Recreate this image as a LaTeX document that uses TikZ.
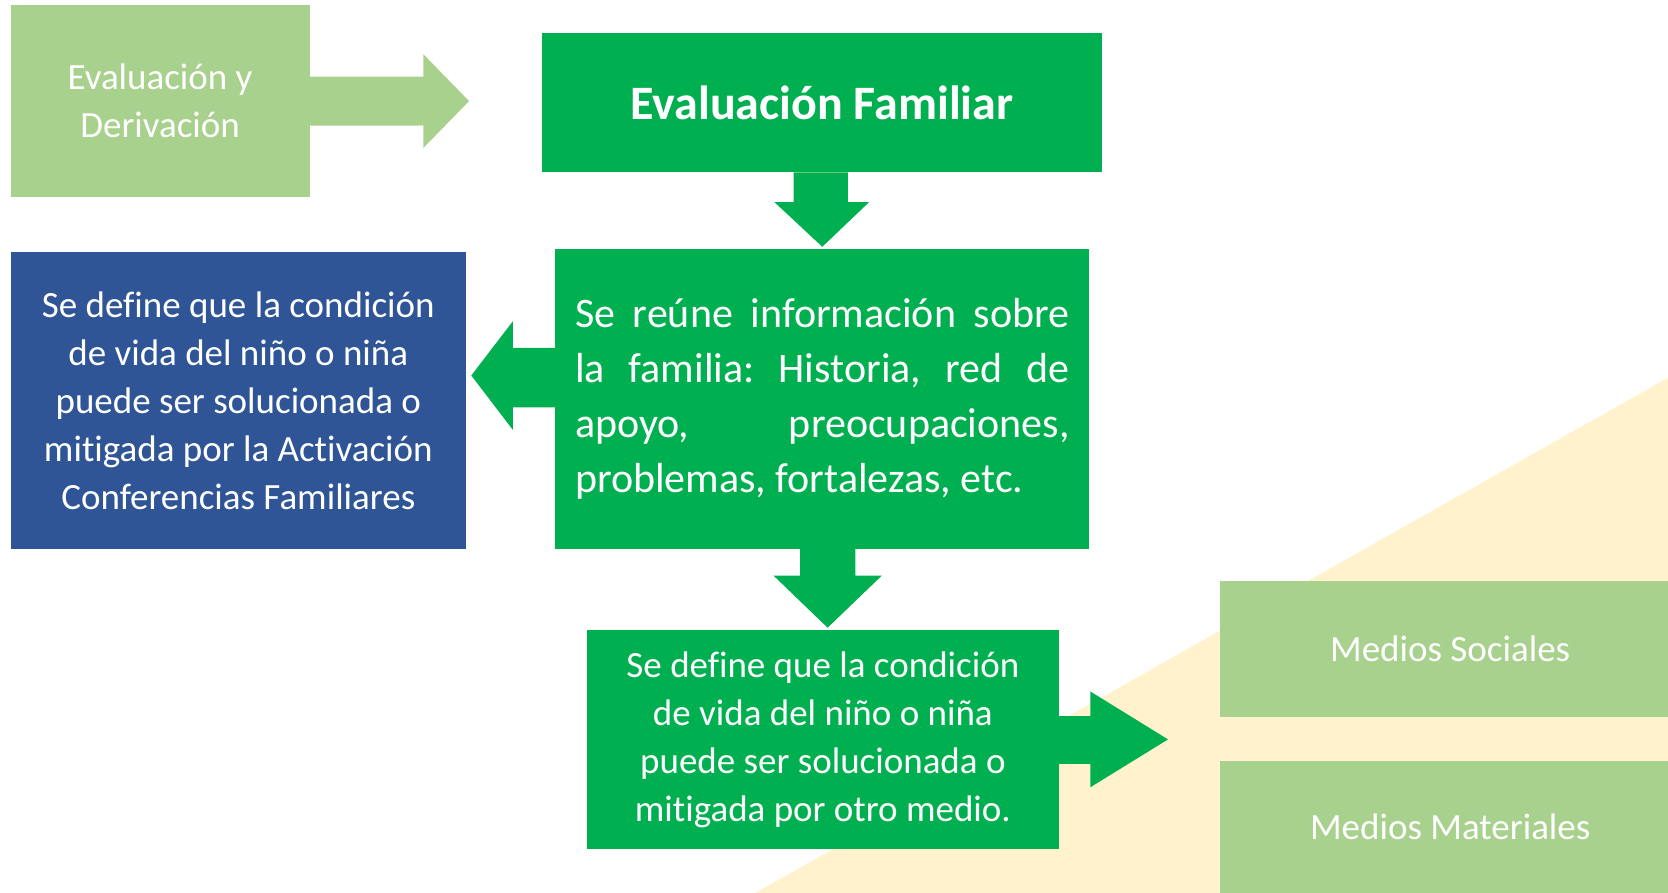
\documentclass[tikz,border=0pt]{standalone}
\usepackage{fontspec}
\setmainfont{Carlito}[Ligatures=NoCommon]
\usetikzlibrary{calc}
\definecolor{lgreen}{HTML}{A9D18E}
\definecolor{dgreen}{HTML}{00B050}
\definecolor{dblue}{HTML}{2F5597}
\definecolor{cream}{HTML}{FFF2CC}
\frenchspacing
\begin{document}
\begin{tikzpicture}[x=1pt,y=-1pt,
  boxn/.style={inner sep=0pt, text=white, align=center, font=\fontsize{37}{48}\selectfont},
  arr/.style={fill=dgreen, draw=none}]
\useasboundingbox (0,0) rectangle (1668,893);
\fill[cream] (755.3,893) -- (1668,377.7) -- (1668,893) -- cycle;

\node[boxn, fill=lgreen, minimum width=299pt, minimum height=191.5pt] (lg) at (160.1,101.1) {Evaluación y\\Derivación};
\node[boxn, fill=dgreen, minimum width=560.6pt, minimum height=139.3pt, font=\bfseries\fontsize{48}{56}\selectfont] (title) at (821.8,102.7) {Evaluación Familiar};
\node[boxn, fill=dgreen, minimum width=534pt, minimum height=300pt, text width=494.6pt, align=justify, font=\fontsize{42}{55}\selectfont] (info) at (822.3,398.9) {Se reúne información sobre\linebreak la familia: Historia, red de\linebreak apoyo, preocupaciones,\linebreak problemas, fortalezas, etc.};
\node[boxn, fill=dblue, minimum width=455.4pt, minimum height=296.8pt] (blue) at (238.3,400.5) {Se define que la condición\\de vida del niño o niña\\puede ser solucionada o\\mitigada por la Activación\\Conferencias Familiares};
\node[boxn, fill=dgreen, minimum width=471.3pt, minimum height=219.1pt] (other) at (822.9,739.4) {Se define que la condición\\de vida del niño o niña\\puede ser solucionada o\\mitigada por otro medio.};
\node[boxn, fill=lgreen, minimum width=460pt, minimum height=136.1pt] (ms) at (1450.2,649) {Medios Sociales};
\node[boxn, fill=lgreen, minimum width=460pt, minimum height=132.4pt] (mm) at (1450.2,826.8) {Medios Materiales};

% arrow from lg
\fill[lgreen] ($(lg.east)+(0,-24.5)$) -- (423.4,76.6) -- (423.4,54.3) -- (469.1,101.1) -- (423.4,147.9) -- (423.4,125.5) -- ($(lg.east)+(0,24.5)$) -- cycle;
% down arrow title -> info
\fill[arr] (793.6,172.3) -- (793.6,202.1) -- (774.4,202.1) -- (822.3,246.8) -- (869.1,202.1) -- (847.9,202.1) -- (847.9,172.3) -- cycle;
% left arrow info -> blue
\fill[arr] (555.3,347.9) -- (512.8,347.9) -- (512.8,321.3) -- (471.3,375.5) -- (512.8,429.8) -- (512.8,407.4) -- (555.3,407.4) -- cycle;
% down arrow info -> other
\fill[arr] (800,548.9) -- (800,575.5) -- (773.4,575.5) -- (827.6,627.7) -- (881.9,575.5) -- (855.3,575.5) -- (855.3,548.9) -- cycle;
% right arrow other -> medios
\fill[arr] (1058.5,716) -- (1090.4,716) -- (1090.4,691.5) -- (1168,739.4) -- (1090.4,787.2) -- (1090.4,763.8) -- (1058.5,763.8) -- cycle;
\end{tikzpicture}
\end{document}
